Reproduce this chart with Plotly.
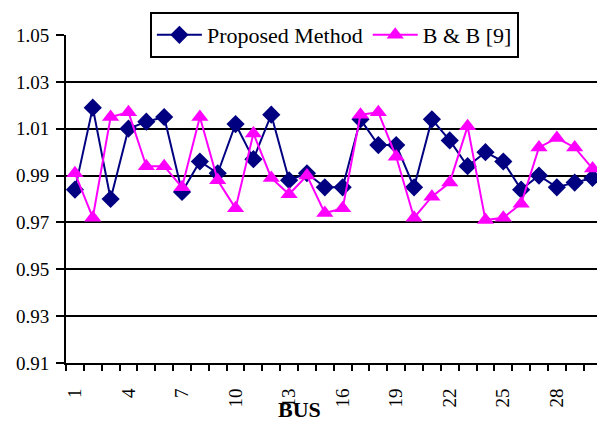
import plotly.graph_objects as go

buses = list(range(1, 31))
proposed = [0.984, 1.019, 0.980, 1.010, 1.013, 1.015, 0.983, 0.996, 0.991, 1.012,
            0.997, 1.016, 0.988, 0.991, 0.985, 0.985, 1.014, 1.003, 1.003, 0.985,
            1.014, 1.005, 0.994, 1.000, 0.996, 0.984, 0.990, 0.985, 0.987, 0.989]
bb = [0.991, 0.972, 1.015, 1.017, 0.994, 0.994, 0.985, 1.015, 0.988, 0.976,
      1.008, 0.989, 0.982, 0.990, 0.974, 0.976, 1.016, 1.017, 0.998, 0.972,
      0.981, 0.987, 1.011, 0.971, 0.972, 0.978, 1.002, 1.006, 1.002, 0.993]
x_tickvals = [1, 4, 7, 10, 13, 16, 19, 22, 25, 28]
y_tickvals = [0.91, 0.93, 0.95, 0.97, 0.99, 1.01, 1.03, 1.05]
x_title = "BUS"

fig = go.Figure()
fig.add_trace(go.Scatter(
    x=buses, y=proposed, name="Proposed Method", mode="lines+markers",
    line=dict(color="#000080", width=2),
    marker=dict(symbol="diamond", size=14, color="#000080")))
fig.add_trace(go.Scatter(
    x=buses, y=bb, name="B & B [9]", mode="lines+markers",
    line=dict(color="#FF00FF", width=2),
    marker=dict(symbol="triangle-up", size=15, color="#FF00FF")))

font_family = "Liberation Serif, Times New Roman, serif"
fig.update_layout(
    width=597, height=422,
    margin=dict(l=66, r=0, t=35, b=59, autoexpand=False),
    paper_bgcolor="white", plot_bgcolor="white",
    font=dict(family=font_family, size=18, color="black"),
    showlegend=True,
    legend=dict(orientation="h", x=0.158, y=1.0, xanchor="left", yanchor="middle",
                bgcolor="white", bordercolor="black", borderwidth=2,
                font=dict(size=22, family=font_family), itemwidth=45,
                tracegroupgap=0),
    xaxis=dict(range=[0.5, 30.25], tickvals=x_tickvals, ticktext=[str(v) for v in x_tickvals],
               tickangle=-90, showgrid=False, zeroline=False,
               showline=True, linecolor="black", linewidth=2,
               ticks="", tickfont=dict(size=19), automargin=False,
               ticklabelstandoff=16,
               minor=dict(ticks="outside", tick0=0.5, dtick=1, ticklen=6,
                          tickcolor="black", tickwidth=2, showgrid=False)),
    yaxis=dict(range=[0.91, 1.05], tickvals=y_tickvals, tickformat=".2f",
               showgrid=True, gridcolor="black", gridwidth=2, zeroline=False,
               showline=True, linecolor="black", linewidth=2,
               ticks="outside", ticklen=8, tickcolor="black", tickwidth=2,
               ticklabelstandoff=3, automargin=False,
               tickfont=dict(size=19)),
    annotations=[dict(text="<b>" + x_title + "</b>", xref="paper", yref="paper",
                      x=0.44, y=-0.143, xanchor="center", yanchor="middle",
                      showarrow=False, font=dict(size=22, family=font_family))],
)
fig.write_html("out.html", config={"displayModeBar": False},
               post_script="document.body.style.margin='0';document.body.style.overflow='hidden';")
